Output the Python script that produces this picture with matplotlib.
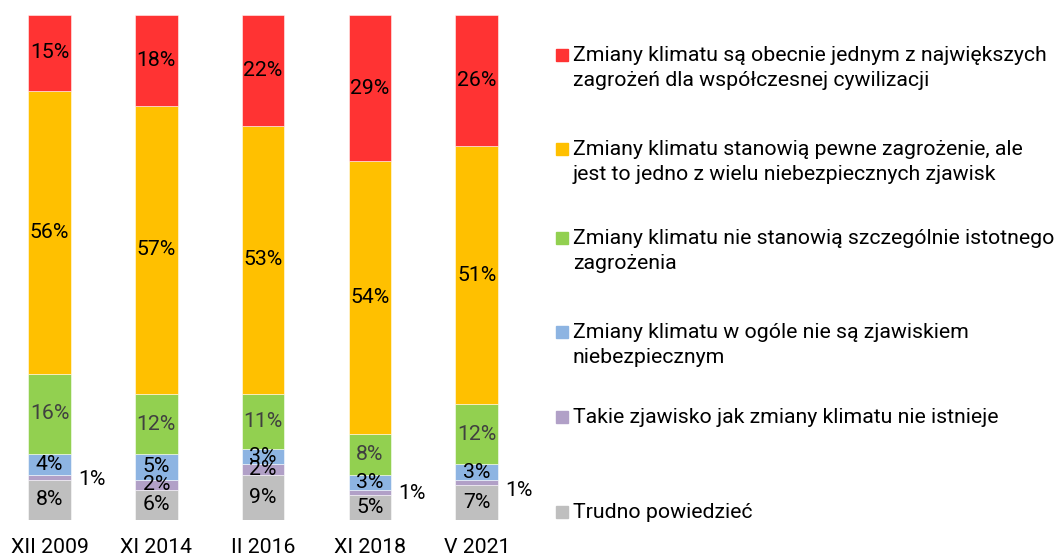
import numpy as np
import matplotlib.pyplot as plt
from matplotlib.patches import Rectangle

plt.rcParams['font.family'] = ['Roboto', 'DejaVu Sans']

categories = ['XII 2009', 'XI 2014', 'II 2016', 'XI 2018', 'V 2021']

# stacked bottom -> top
series_names = [
    'Trudno powiedzieć',
    'Takie zjawisko jak zmiany klimatu nie istnieje',
    'Zmiany klimatu w ogóle nie są zjawiskiem\nniebezpiecznym',
    'Zmiany klimatu nie stanowią szczególnie istotnego\nzagrożenia',
    'Zmiany klimatu stanowią pewne zagrożenie, ale\njest to jedno z wielu niebezpiecznych zjawisk',
    'Zmiany klimatu są obecnie jednym z największych\nzagrożeń dla współczesnej cywilizacji',
]
trudno = [8, 6, 9, 5, 7]
nie_istnieje = [1, 2, 2, 1, 1]
nie_niebezp = [4, 5, 3, 3, 3]
nie_istotne = [16, 12, 11, 8, 12]
pewne = [56, 57, 53, 54, 51]
najwieksze = [15, 18, 22, 29, 26]
values = [trudno, nie_istnieje, nie_niebezp, nie_istotne, pewne, najwieksze]

colors = ['#BFBFBF', '#B1A0C7', '#8DB4E2', '#92D050', '#FFC000', '#FF3333']
label_colors = ['black', 'black', 'black', '#404040', 'black', 'black']
# vertical nudge (points) of the outside "1%" labels per bar
outside_dy = [-2, 0, 0, -1, -6]

FS = 15.3
W, H = 1058, 556
fig = plt.figure(figsize=(W / 100, H / 100), dpi=100)
ax = fig.add_axes([0, 36 / H, 534 / W, 505 / H])

x = np.arange(len(categories))
bottom = np.zeros(len(categories))
for vals, col, tc in zip(values, colors, label_colors):
    vals = np.array(vals, dtype=float)
    ax.bar(x, vals, 0.40, bottom=bottom, color=col,
           edgecolor=(1, 1, 1, 0.6), linewidth=0.6)
    for i, (b, v) in enumerate(zip(bottom, vals)):
        yc = b + v / 2
        if v <= 1:
            ax.annotate(f'{v:.0f}%', (x[i] + 0.2, yc), xytext=(5, outside_dy[i]),
                        textcoords='offset points', ha='left', va='center',
                        fontsize=FS, color='black')
        else:
            ax.text(x[i], yc, f'{v:.0f}%', ha='center', va='center',
                    fontsize=FS, color=tc)
    bottom += vals

ax.set_xlim(-49.5 / 106.75, -49.5 / 106.75 + 5)
ax.set_ylim(0, 100)
ax.set_xticks(x)
ax.set_xticklabels(categories, fontsize=FS)
ax.tick_params(axis='x', length=0, pad=13)
ax.set_yticks([])
for s in ax.spines.values():
    s.set_visible(False)

# legend, top entry first
leg_y = [55, 149, 238, 332, 417, 512]
for name, col, yc in zip(series_names[::-1], colors[::-1], leg_y):
    fig.patches.append(Rectangle((556 / W, 1 - (yc + 6) / H), 12 / W, 12 / H,
                                 transform=fig.transFigure, color=col))
    for k, line in enumerate(name.split('\n')):
        fig.text(573 / W, 1 - (yc + 6 + 25 * k) / H, line, fontsize=FS,
                 ha='left', va='baseline', color='black')

fig.savefig('out.png', dpi=100)
